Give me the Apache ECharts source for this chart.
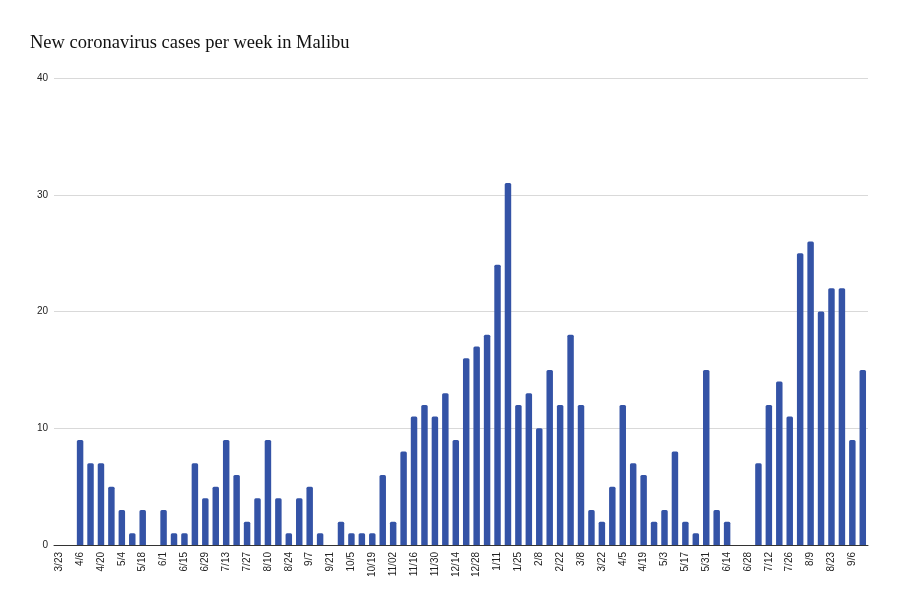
<!DOCTYPE html>
<html>
<head>
<meta charset="utf-8">
<script src="https://cdn.jsdelivr.net/npm/echarts@6/dist/echarts.min.js"></script>
<style>
html,body{margin:0;padding:0;background:#fff;}
#main{width:900px;height:605px;}
</style>
</head>
<body>
<div id="main"></div>
<script>
var weeks = ['3/23','3/30','4/6','4/13','4/20','4/27','5/4','5/11','5/18','5/25','6/1','6/8','6/15','6/22','6/29','7/6','7/13','7/20','7/27','8/3','8/10','8/17','8/24','8/31','9/7','9/14','9/21','9/28','10/5','10/12','10/19','10/26','11/02','11/09','11/16','11/23','11/30','12/07','12/14','12/21','12/28','1/4','1/11','1/18','1/25','2/1','2/8','2/15','2/22','3/1','3/8','3/15','3/22','3/29','4/5','4/12','4/19','4/26','5/3','5/10','5/17','5/24','5/31','6/7','6/14','6/21','6/28','7/5','7/12','7/19','7/26','8/2','8/9','8/16','8/23','8/30','9/6','9/13'];
var cases = [0,0,9,7,7,5,3,1,3,0,3,1,1,7,4,5,9,6,2,4,9,4,1,4,5,1,0,2,1,1,1,6,2,8,11,12,11,13,9,16,17,18,24,31,12,13,10,15,12,18,12,3,2,5,12,7,6,2,3,8,2,1,15,3,2,0,0,7,12,14,11,25,26,20,22,22,9,15];
var yTicks = [0,10,20,30,40];

var chart = echarts.init(document.getElementById('main'));
chart.setOption({
  animation: false,
  backgroundColor: '#ffffff',
  title: {
    text: 'New coronavirus cases per week in Malibu',
    left: 25, top: 29,
    textStyle: {fontFamily: 'Liberation Serif', fontWeight: 'normal', fontSize: 18.5, color: '#111'}
  },
  grid: {left: 54, right: 32, top: 78, bottom: 60},
  xAxis: {
    type: 'category',
    data: weeks,
    boundaryGap: true,
    axisTick: {show: false},
    axisLine: {lineStyle: {color: '#333', width: 1}},
    axisLabel: {interval: 1, rotate: 90, fontSize: 10, color: '#222', fontFamily: 'Liberation Sans', margin: 7}
  },
  yAxis: {
    type: 'value',
    min: yTicks[0], max: yTicks[yTicks.length - 1], interval: 10,
    axisLine: {show: false},
    axisTick: {show: false},
    splitLine: {lineStyle: {color: '#d9d9d9', width: 1}},
    axisLabel: {fontSize: 10, color: '#222', fontFamily: 'Liberation Sans', margin: 6}
  },
  series: [{
    type: 'bar',
    data: cases,
    barWidth: '62%',
    itemStyle: {color: '#3453a6', borderRadius: [1.5, 1.5, 0, 0]}
  }]
});
</script>
</body>
</html>
